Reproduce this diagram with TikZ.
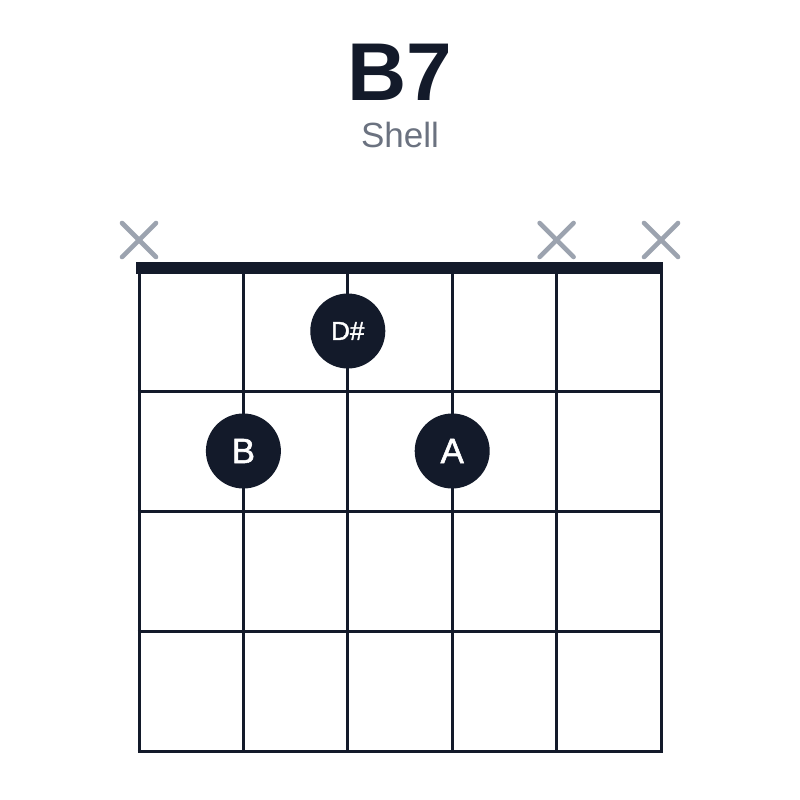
\documentclass[tikz,border=0pt]{standalone}
\usepackage{fontspec}
\setmainfont{Liberation Sans}
\newfontfamily\dotfont[FakeBold=1.6]{Liberation Sans}
\definecolor{ink}{HTML}{131A2A}
\definecolor{mute}{HTML}{9CA3AF}
\definecolor{sub}{HTML}{6B7280}
\begin{document}
\begin{tikzpicture}[x=1pt,y=-1pt,
  gridline/.style={draw=ink,line width=3pt},
  nutline/.style={draw=ink,line width=12pt},
  xmark/.style={draw=mute,line width=4.6pt,line cap=round},
  fingerdot/.style={circle,fill=ink,minimum size=75pt,inner sep=0pt,text=white}]
\useasboundingbox (0,0) rectangle (800,800);
\node[anchor=base,text=ink,font=\fontsize{82}{82}\selectfont\bfseries] (title) at (400,100) {B7};
\node[anchor=base,text=sub,font=\fontsize{35}{35}\selectfont] (subtitle) at (400,147) {Shell};
% strings
\foreach \i in {0,...,5} {
  \draw[gridline] ({139+104.4*\i},268) -- ({139+104.4*\i},751.5);
}
% frets
\foreach \j in {1,...,4} {
  \draw[gridline] (137.5,{271.5+120*\j}) -- (662.5,{271.5+120*\j});
}
\draw[nutline] (136,268) -- (663,268);
% muted strings
\foreach \x in {139,556.6,661} {
  \draw[xmark] (\x-17,223) -- (\x+17,257);
  \draw[xmark] (\x-17,257) -- (\x+17,223);
}
\node[fingerdot,font=\dotfont\fontsize{26}{26}\selectfont] (ds) at (347.8,331) {D\#};
\node[fingerdot,font=\dotfont\fontsize{35}{35}\selectfont] (b) at (243.4,451) {B};
\node[fingerdot,font=\dotfont\fontsize{35}{35}\selectfont] (a) at (452.2,451) {A};
\end{tikzpicture}
\end{document}
